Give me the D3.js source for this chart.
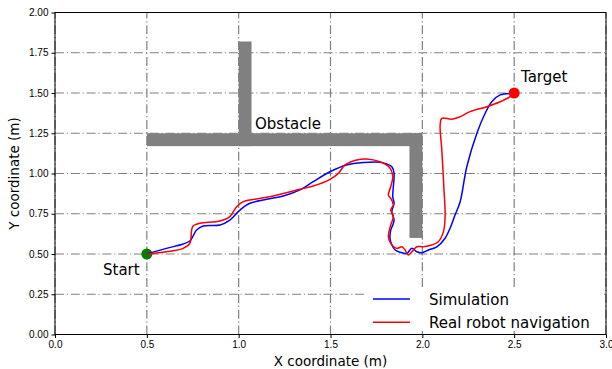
<!DOCTYPE html>
<html>
<head>
<meta charset="utf-8">
<script src="https://cdn.jsdelivr.net/npm/d3@7"></script>
<style>
  body { margin: 0; background: #fff; }
  svg { font-family: "DejaVu Sans", sans-serif; }
  .tick text { font-size: 10px; fill: #000; }
  .domain, .tick line { stroke: #000; }
</style>
</head>
<body>
<div class="grafico"></div>
<script>
// trajectories, in metres
const simX = [0.5, 0.607, 0.698, 0.734, 0.752, 0.771, 0.807, 0.898, 0.952, 1.007, 1.061, 1.152, 1.243, 1.334, 1.406, 1.497, 1.588, 1.679, 1.770, 1.806, 1.834, 1.846, 1.842, 1.839, 1.846, 1.834, 1.846, 1.839, 1.828, 1.824, 1.834, 1.852, 1.879, 1.915, 1.943, 1.970, 1.997, 2.033, 2.079, 2.124, 2.151, 2.178, 2.206, 2.242, 2.297, 2.342, 2.378, 2.424, 2.496]
const simY = [0.5, 0.535, 0.562, 0.581, 0.612, 0.649, 0.674, 0.680, 0.711, 0.773, 0.815, 0.840, 0.860, 0.898, 0.949, 1.011, 1.053, 1.068, 1.070, 1.059, 1.042, 1.001, 0.918, 0.856, 0.815, 0.763, 0.711, 0.680, 0.649, 0.598, 0.556, 0.525, 0.511, 0.504, 0.535, 0.514, 0.508, 0.525, 0.545, 0.598, 0.660, 0.742, 0.825, 1.042, 1.250, 1.374, 1.446, 1.488, 1.498]

const realX = [0.5, 0.607, 0.698, 0.734, 0.744, 0.752, 0.789, 0.898, 0.952, 0.989, 1.025, 1.152, 1.334, 1.406, 1.497, 1.543, 1.579, 1.643, 1.697, 1.770, 1.813, 1.830, 1.839, 1.828, 1.815, 1.828, 1.842, 1.828, 1.842, 1.828, 1.815, 1.828, 1.861, 1.888, 1.906, 1.924, 1.943, 1.970, 2.006, 2.051, 2.087, 2.115, 2.124, 2.118, 2.106, 2.097, 2.106, 2.160, 2.206, 2.260, 2.351, 2.424, 2.478, 2.5]
const realY = [0.5, 0.514, 0.535, 0.566, 0.649, 0.674, 0.691, 0.705, 0.732, 0.794, 0.825, 0.852, 0.902, 0.922, 0.964, 1.001, 1.053, 1.084, 1.090, 1.073, 1.047, 1.022, 0.980, 0.918, 0.866, 0.846, 0.804, 0.773, 0.732, 0.680, 0.607, 0.566, 0.535, 0.545, 0.525, 0.494, 0.514, 0.545, 0.545, 0.556, 0.576, 0.639, 0.732, 0.898, 1.146, 1.301, 1.343, 1.337, 1.353, 1.384, 1.415, 1.446, 1.477, 1.5]

// obstacle rectangles [x0, x1, y0, y1]
const obstacles = [
  [0.5, 2.0, 1.17, 1.25],
  [1.0, 1.07, 1.17, 1.82],
  [1.93, 2.0, 0.6, 1.25]
]

const xTicks = [0, 0.5, 1.0, 1.5, 2.0, 2.5, 3.0]
const yTicks = [0, 0.25, 0.5, 0.75, 1.0, 1.25, 1.5, 1.75, 2.0]

const startPt = [0.5, 0.5]
const targetPt = [2.5, 1.5]

const w = 612
const h = 369
const margin = {left: 55, right: 6, top: 12.5, bottom: 34.5}

const xScale = d3.scaleLinear().domain([0, 3]).range([margin.left, w - margin.right])
const yScale = d3.scaleLinear().domain([0, 2]).range([h - margin.bottom, margin.top])

const svg = d3.select('.grafico').append('svg')
  .attr('width', w)
  .attr('height', h)

/*grid*/
const grid = svg.append('g').attr('class', 'grid')
  .attr('stroke', '#808080')
  .attr('stroke-width', 1.2)
  .attr('stroke-dasharray', '9,2.8,1.2,2.8')

grid.selectAll('.gx').data(xTicks).enter().append('line')
  .attr('x1', d => xScale(d)).attr('x2', d => xScale(d))
  .attr('y1', yScale(0)).attr('y2', yScale(2))

grid.selectAll('.gy').data(yTicks).enter().append('line')
  .attr('x1', xScale(0)).attr('x2', xScale(3))
  .attr('y1', d => yScale(d)).attr('y2', d => yScale(d))

/*obstacle*/
svg.append('g').selectAll('rect').data(obstacles).enter().append('rect')
  .attr('x', d => xScale(d[0]))
  .attr('width', d => xScale(d[1]) - xScale(d[0]))
  .attr('y', d => yScale(d[3]))
  .attr('height', d => yScale(d[2]) - yScale(d[3]))
  .attr('fill', '#808080')

/*start marker (under the paths)*/
svg.append('circle')
  .attr('cx', xScale(startPt[0])).attr('cy', yScale(startPt[1]))
  .attr('r', 5.5).attr('fill', 'green')

const line = d3.line()
  .x(d => xScale(d[0]))
  .y(d => yScale(d[1]))
  .curve(d3.curveCatmullRom.alpha(0.5))

svg.append('path')
  .datum(d3.zip(simX, simY))
  .attr('d', line)
  .attr('fill', 'none')
  .attr('stroke', 'blue')
  .attr('stroke-width', 1.5)

svg.append('path')
  .datum(d3.zip(realX, realY))
  .attr('d', line)
  .attr('fill', 'none')
  .attr('stroke', 'red')
  .attr('stroke-width', 1.5)

svg.append('circle')
  .attr('cx', xScale(targetPt[0])).attr('cy', yScale(targetPt[1]))
  .attr('r', 5.5).attr('fill', 'red')

/*labels*/
svg.append('text').attr('x', 103).attr('y', 275).attr('font-size', 15).text('Start')
svg.append('text').attr('x', 521).attr('y', 82).attr('font-size', 15).text('Target')
svg.append('text').attr('x', 255).attr('y', 129).attr('font-size', 15).text('Obstacle')

/*axes*/
const xAxis = d3.axisBottom(xScale).tickValues(xTicks).tickSize(3.5).tickFormat(d3.format('.1f'))
const yAxis = d3.axisLeft(yScale).tickValues(yTicks).tickSize(3.5).tickFormat(d3.format('.2f'))

svg.append('g')
  .attr('id', 'x-axis')
  .attr('transform', `translate(0,${h - margin.bottom})`)
  .call(xAxis)
  .call(g => g.select('.domain').remove())

svg.append('g')
  .attr('id', 'y-axis')
  .attr('transform', `translate(${margin.left},0)`)
  .call(yAxis)
  .call(g => g.select('.domain').remove())

svg.append('rect')
  .attr('x', xScale(0)).attr('y', yScale(2))
  .attr('width', xScale(3) - xScale(0))
  .attr('height', yScale(0) - yScale(2))
  .attr('fill', 'none')
  .attr('stroke', '#000')
  .attr('stroke-width', 1)

svg.append('text')
  .attr('x', (xScale(0) + xScale(3)) / 2)
  .attr('y', 366)
  .attr('text-anchor', 'middle')
  .attr('font-size', 13.5)
  .text('X coordinate (m)')

svg.append('text')
  .attr('transform', `translate(19,${(yScale(0) + yScale(2)) / 2}) rotate(-90)`)
  .attr('text-anchor', 'middle')
  .attr('font-size', 13.5)
  .text('Y coordinate (m)')

/*legend*/
const legend = svg.append('g').attr('id', 'legend')
legend.append('rect')
  .attr('x', 364).attr('y', 287).attr('width', 238).attr('height', 44)
  .attr('fill', '#fff')

const legendItems = [['Simulation', 'blue'], ['Real robot navigation', 'red']]
legendItems.forEach((item, i) => {
  const y = 299 + i * 23.3
  legend.append('line')
    .attr('x1', 373).attr('x2', 410).attr('y1', y).attr('y2', y)
    .attr('stroke', item[1]).attr('stroke-width', 1.5)
  legend.append('text')
    .attr('x', 429).attr('y', y + 5.5)
    .attr('font-size', 15)
    .text(item[0])
})
</script>
</body>
</html>
